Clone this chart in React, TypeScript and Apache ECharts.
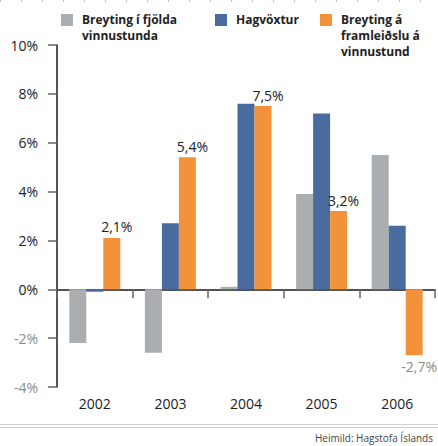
import React, { useEffect, useRef } from "react";
import * as echarts from "echarts";

const years = ["2002", "2003", "2004", "2005", "2006"];
const hoursChange = [-2.2, -2.6, 0.1, 3.9, 5.5];
const gdpGrowth = [-0.1, 2.7, 7.6, 7.2, 2.6];
const productivity = [2.1, 5.4, 7.5, 3.2, -2.7];
const seriesNames = [
  ["Breyting í fjölda", "vinnustunda"],
  ["Hagvöxtur"],
  ["Breyting á", "framleiðslu á", "vinnustund"],
];
const colors = ["#aaaeb1", "#4a6b9e", "#f2923b"];
const sourceText = "Heimild: Hagstofa Íslands";

const FONT = "'Open Sans', 'Noto Sans', sans-serif";

export default function App() {
  const ref = useRef<HTMLDivElement>(null);
  useEffect(() => {
    if (!ref.current) return;
    const chart = echarts.init(ref.current, undefined, { renderer: "svg" });
    const fmt = (v: number) => v.toFixed(1).replace(".", ",") + "%";
    const legendX = [61, 215, 320];
    const option: any = {
      animation: false,
      backgroundColor: "#ffffff",
      grid: { left: 57, right: 3, top: 45, bottom: 59 },
      xAxis: [
        {
          type: "category",
          data: years,
          axisLine: { show: true, onZero: true, lineStyle: { color: "#1a1a1a", width: 1.5 } },
          axisTick: { show: true, length: 9, lineStyle: { color: "#666", width: 1.5 } },
          axisLabel: { show: false },
          splitLine: { show: false },
        },
        {
          type: "category",
          data: years,
          position: "bottom",
          axisLine: { show: false, onZero: false },
          axisTick: { show: false },
          axisLabel: { show: true, margin: 9, fontSize: 14, color: "#222", fontFamily: FONT },
          splitLine: { show: false },
        },
      ],
      yAxis: {
        type: "value",
        min: -4,
        max: 10,
        interval: 2,
        axisLine: { show: true, lineStyle: { color: "#1a1a1a", width: 1.5 } },
        axisTick: { show: true, length: 9, lineStyle: { color: "#666", width: 1.5 } },
        splitLine: { show: false },
        axisLabel: {
          margin: 19,
          fontFamily: FONT,
          formatter: (v: number) => (v < 0 ? "{n|" + v + "%}" : "{p|" + v + "%}"),
          rich: {
            p: { fontSize: 14, color: "#222", fontFamily: FONT },
            n: { fontSize: 14, color: "#8c8c8c", fontFamily: FONT },
          },
        },
      },
      series: [
        {
          name: seriesNames[0].join(" "),
          type: "bar",
          data: hoursChange,
          itemStyle: { color: colors[0] },
          barWidth: 17,
          barGap: "0%",
          barCategoryGap: "32%",
        },
        {
          name: seriesNames[1].join(" "),
          type: "bar",
          data: gdpGrowth,
          itemStyle: { color: colors[1] },
          barWidth: 17,
          barGap: "0%",
        },
        {
          name: seriesNames[2].join(" "),
          type: "bar",
          data: productivity.map((v) =>
            v < 0
              ? { value: v, label: { position: "bottom", color: "#8c8c8c" } }
              : { value: v }
          ),
          itemStyle: { color: colors[2] },
          barWidth: 17,
          barGap: "0%",
          label: {
            show: true,
            position: "top",
            distance: 4,
            offset: [5, 0],
            fontSize: 14,
            color: "#222",
            fontFamily: FONT,
            formatter: (p: any) => fmt(p.value),
          },
        },
      ],
      graphic: [
        {
          type: "line",
          shape: { x1: 0, y1: 1, x2: 438, y2: 1 },
          style: { stroke: "#bbbbbb", lineWidth: 2, lineDash: [1, 20] },
        },
        ...seriesNames.flatMap((lines, i) => [
          {
            type: "rect",
            shape: { x: legendX[i], y: 14, width: 12, height: 12 },
            style: { fill: colors[i] },
          },
          ...lines.map((ln, k) => ({
            type: "text",
            x: legendX[i] + 21,
            y: 13 + k * 16,
            style: {
              text: ln,
              font: "bold 12px " + FONT,
              fill: "#222",
              textVerticalAlign: "top",
            },
          })),
        ]),
        {
          type: "line",
          shape: { x1: 0, y1: 424.5, x2: 438, y2: 424.5 },
          style: { stroke: "#d0d0d0", lineWidth: 1 },
        },
        {
          type: "line",
          shape: { x1: 0, y1: 427.5, x2: 438, y2: 427.5 },
          style: { stroke: "#d0d0d0", lineWidth: 1 },
        },
        {
          type: "text",
          right: 5,
          top: 433,
          style: { text: sourceText, font: "10px " + FONT, fill: "#444" },
        },
      ],
    };
    chart.setOption(option);
    return () => chart.dispose();
  }, []);
  return (
    <div
      ref={ref}
      style={{ position: "fixed", left: 0, top: 0, width: 438, height: 446 }}
    />
  );
}
